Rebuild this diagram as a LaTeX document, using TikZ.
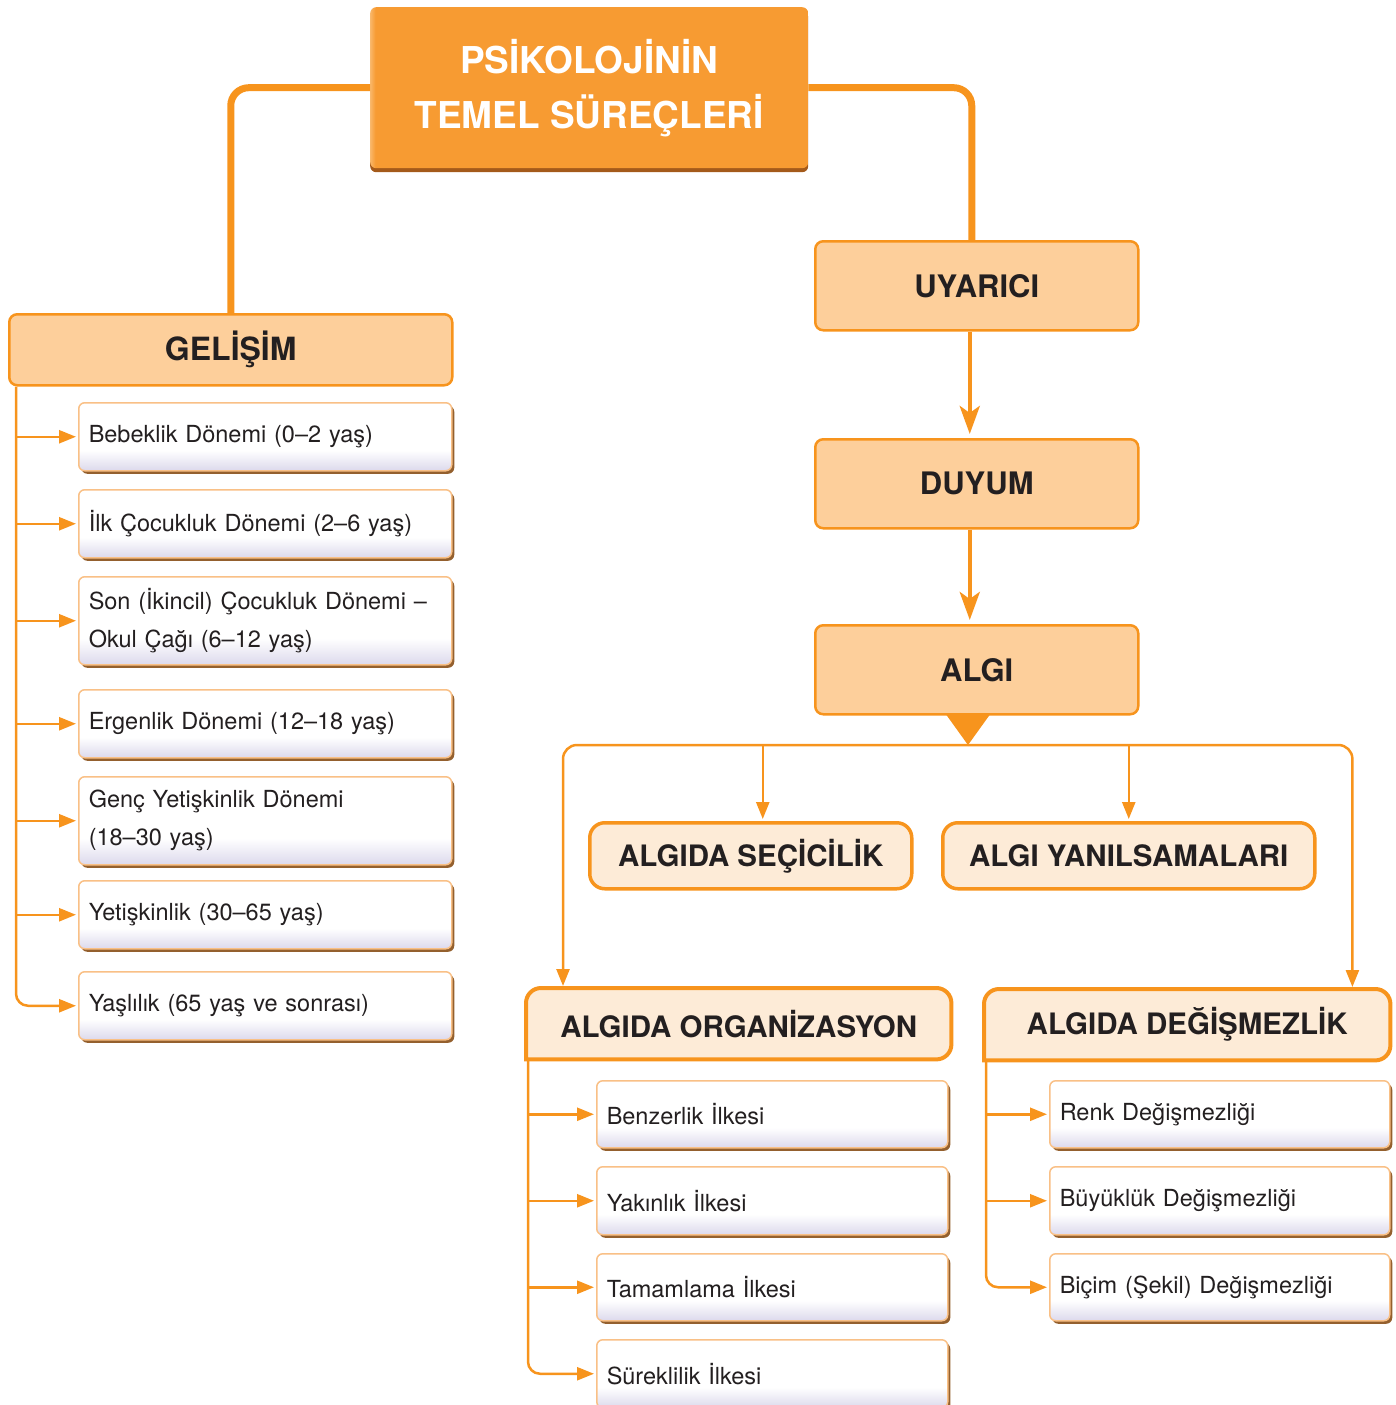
\documentclass[tikz,border=0pt]{standalone}
\usepackage{fontspec}
\setmainfont{TeX Gyre Heros}
\usetikzlibrary{arrows.meta,shadows,calc}
\pgfdeclarelayer{bg}
\pgfsetlayers{bg,main}
\definecolor{orl}{HTML}{F7941D}
\definecolor{hdr}{HTML}{FDCF9B}
\definecolor{peach}{HTML}{FDEBD7}
\definecolor{topfill}{HTML}{F79B32}
\definecolor{topl}{HTML}{F9B76A}
\definecolor{topsh}{HTML}{A45A1A}
\definecolor{txt}{HTML}{231F20}
\definecolor{itb}{HTML}{F9C086}
\definecolor{itsh}{HTML}{94602E}
\definecolor{itbot}{HTML}{DCD9EC}
\pgfdeclareverticalshading{itemshade}{100bp}{color(0bp)=(itbot); color(25bp)=(itbot); color(40bp)=(white); color(100bp)=(white)}
\pgfdeclarehorizontalshading{titleshade}{100bp}{color(0bp)=(topl); color(25bp)=(topl); color(25.6bp)=(topfill); color(100bp)=(topfill)}
\begin{document}
\begin{tikzpicture}[x=1pt,y=-1pt,
  conn/.style={draw=orl, line width=2.5pt, -{Triangle[length=17pt,width=13pt]}, shorten >=2pt},
  thickconn/.style={draw=orl, line width=7pt, rounded corners=18pt},
  bigarr/.style={draw=orl, line width=4.5pt, -{Stealth[length=28pt,width=20pt,inset=7pt]}, shorten >=4pt},
  titlebox/.style={anchor=north west, shading=titleshade, rounded corners=6pt, text=white,
    align=center, font=\bfseries\fontsize{37}{55}\selectfont,
    drop shadow={shadow xshift=0pt, shadow yshift=-4pt, fill=topsh, opacity=1}},
  head/.style={anchor=north west, fill=hdr, draw=orl, line width=2.5pt, rounded corners=8pt,
    text=txt, font=\bfseries\fontsize{31}{31}\selectfont},
  sub/.style={anchor=north west, fill=peach, draw=orl, line width=3.5pt, rounded corners=15pt,
    text=txt, font=\bfseries\fontsize{29.5}{29.5}\selectfont},
  subtext/.style={anchor=north west, text=txt, font=\bfseries\fontsize{29.5}{29.5}\selectfont},
  subedge/.style={fill=peach, draw=orl, line width=4pt},
  item/.style={anchor=north west, inner xsep=10pt, inner ysep=0pt, align=left,
    shading=itemshade,
    draw=itb, line width=1.5pt, rounded corners=6pt,
    drop shadow={shadow xshift=2.5pt, shadow yshift=-3pt, fill=itsh, opacity=1},
    text=txt, font=\fontsize{23.5}{38}\selectfont},
  itemL/.style={item, minimum width=373pt, text width=353pt},
  itemO/.style={item, minimum width=351pt, text width=331pt},
  itemD/.style={item, minimum width=340pt, text width=320pt}
]
\useasboundingbox (0,0) rectangle (1396,1405);

% title and main headers
\node[titlebox, minimum width=438pt, minimum height=161pt] (top) at (370,7) {PSİKOLOJİNİN\\TEMEL SÜREÇLERİ};
\node[head, minimum width=443pt, minimum height=71pt, font=\bfseries\fontsize{32}{32}\selectfont] (gel) at (8,313) {GELİŞİM};
\node[head, minimum width=323pt, minimum height=89pt] (uy) at (814,240) {UYARICI};
\node[head, minimum width=323pt, minimum height=89pt] (du) at (814,438) {DUYUM};
\node[head, minimum width=323pt, minimum height=89pt] (algi) at (814,624) {ALGI};

\node[sub, minimum width=322pt, minimum height=66pt] (sel) at (588,821) {ALGIDA SEÇİCİLİK};
\node[sub, minimum width=372pt, minimum height=66pt] (yan) at (941,821) {ALGI YANILSAMALARI};
\node[subtext, minimum width=425pt, minimum height=71pt] (org) at (526,988) {ALGIDA ORGANİZASYON};
\node[subtext, minimum width=406pt, minimum height=71pt] (deg) at (984,989) {ALGIDA DEĞİŞMEZLİK};

\begin{pgfonlayer}{bg}
\path[subedge] (org.south west) -- ([yshift=-15pt]org.north west)
  arc[start angle=180,end angle=90,radius=15pt] -- ([xshift=-15pt]org.north east)
  arc[start angle=90,end angle=0,radius=15pt] -- ([yshift=15pt]org.south east)
  arc[start angle=0,end angle=-90,radius=15pt] -- cycle;
\path[subedge] (deg.south west) -- ([yshift=-15pt]deg.north west)
  arc[start angle=180,end angle=90,radius=15pt] -- ([xshift=-15pt]deg.north east)
  arc[start angle=90,end angle=0,radius=15pt] -- ([yshift=15pt]deg.south east)
  arc[start angle=0,end angle=-90,radius=15pt] -- cycle;
\end{pgfonlayer}

% GELİŞİM items
\node[itemL, minimum height=68pt] (i1) at (78,402) {Bebeklik Dönemi (0–2 yaş)};
\node[itemL, minimum height=68pt] (i2) at (78,489) {İlk Çocukluk Dönemi (2–6 yaş)};
\node[itemL, minimum height=88pt] (i3) at (78,576) {\makebox[352pt][s]{Son (İkincil) Çocukluk Dönemi –}\\Okul Çağı (6–12 yaş)};
\node[itemL, minimum height=68pt] (i4) at (78,689) {Ergenlik Dönemi (12–18 yaş)};
\node[itemL, minimum height=88pt] (i5) at (78,776) {Genç Yetişkinlik Dönemi\\(18–30 yaş)};
\node[itemL, minimum height=68pt] (i6) at (78,880) {Yetişkinlik (30–65 yaş)};
\node[itemL, minimum height=68pt] (i7) at (78,971) {Yaşlılık (65 yaş ve sonrası)};

% ORGANİZASYON items
\node[itemO, minimum height=67pt] (o1) at (596,1080) {Benzerlik İlkesi};
\node[itemO, minimum height=68pt] (o2) at (596,1166) {Yakınlık İlkesi};
\node[itemO, minimum height=67pt] (o3) at (596,1253) {Tamamlama İlkesi};
\node[itemO, minimum height=68pt] (o4) at (596,1339) {Süreklilik İlkesi};

% DEĞİŞMEZLİK items
\node[itemD, minimum height=67pt] (d1) at (1049,1080) {Renk Değişmezliği};
\node[itemD, minimum height=68pt] (d2) at (1049,1166) {Büyüklük Değişmezliği};
\node[itemD, minimum height=67pt] (d3) at (1049,1253) {Biçim (Şekil) Değişmezliği};

% top connectors
\coordinate (uN) at ([xshift=-5pt]uy.north);
\draw[thickconn] (top.west) -| (gel.north);
\draw[thickconn] (top.east) -| (uN);

% vertical chain
\draw[bigarr] ([xshift=-7pt]uy.south) -- ([xshift=-7pt]du.north);
\draw[bigarr] ([xshift=-7pt]du.south) -- ([xshift=-7pt]algi.north);

% ALGI split
\coordinate (split) at (968,745);
\fill[orl] (split) -- ++(-23,-32) -- ++(46,0) -- cycle;
\coordinate (orgIn) at ([xshift=37pt]org.north west);
\coordinate (degIn) at ([xshift=-38pt]deg.north east);
\coordinate (selIn) at ([xshift=12pt]sel.north);
\draw[conn, rounded corners=14pt] (split) -| (orgIn);
\draw[conn, rounded corners=14pt] (split) -| (degIn);
\draw[conn] (split -| selIn) -- (selIn);
\draw[conn] (split -| yan.north) -- (yan.north);

% GELİŞİM spine
\coordinate (gs) at ([xshift=8pt]gel.south west);
\draw[conn, rounded corners=12pt] (gs) |- (i7.west);
\foreach \n in {i1,i2,i3,i4,i5,i6} \draw[conn] (gs |- \n.west) -- (\n.west);

% ORGANİZASYON spine
\coordinate (os) at ([xshift=2pt]org.south west);
\draw[conn, rounded corners=12pt] (os) |- (o4.west);
\foreach \n in {o1,o2,o3} \draw[conn] (os |- \n.west) -- (\n.west);

% DEĞİŞMEZLİK spine
\coordinate (ds) at ([xshift=2pt]deg.south west);
\draw[conn, rounded corners=12pt] (ds) |- (d3.west);
\foreach \n in {d1,d2} \draw[conn] (ds |- \n.west) -- (\n.west);
\end{tikzpicture}
\end{document}
